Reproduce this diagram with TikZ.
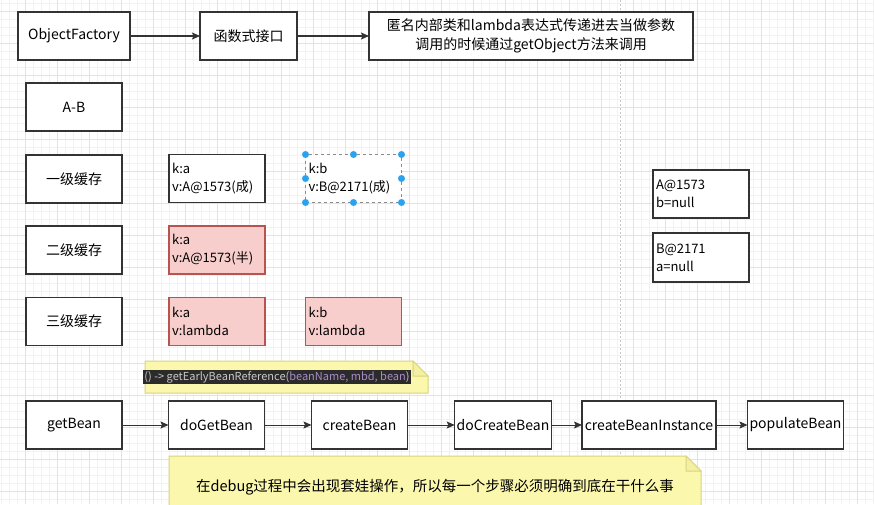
\documentclass[tikz,border=0pt]{standalone}
\usepackage{fontspec}
\setmainfont{Noto Sans CJK SC}
\usetikzlibrary{arrows.meta}

\definecolor{PinkFill}{HTML}{F8CECC}
\definecolor{PinkLine}{HTML}{B85450}
\definecolor{NoteFill}{HTML}{FBF7AC}
\definecolor{NoteLine}{HTML}{D9D47E}
\definecolor{BoxLine}{HTML}{333333}
\definecolor{CodeBack}{HTML}{2B2B2B}
\definecolor{CodeText}{HTML}{C8C8C8}
\definecolor{CodeParam}{HTML}{A88BC6}
\definecolor{HandleBlue}{HTML}{29A3F0}

\begin{document}
\begin{tikzpicture}[
	x=1pt, y=-1pt,
	MyBox/.style={draw=BoxLine, line width=1.2pt, fill=white, minimum width=96pt,
		minimum height=48pt, inner sep=2pt, outer sep=0pt,
		font=\fontsize{14}{19}\selectfont},
	CacheBox/.style={MyBox, text width=90pt, align=left, inner xsep=3pt,
		font=\fontsize{13}{18}\selectfont},
	PinkBox/.style={CacheBox, draw=PinkLine, fill=PinkFill},
	MyArrow/.style={-{Stealth[length=8pt, width=7pt, inset=1.5pt]}, line width=1.2pt, BoxLine},
	NoteStyle/.style={fill=NoteFill, draw=NoteLine, line width=1pt},
	NoteFold/.style={fill=NoteFill!80!NoteLine, draw=NoteLine, line width=1pt},
	GridMinor/.style={line width=0.4pt, black!5},
	GridMajor/.style={line width=0.5pt, black!11},
	]
	\clip (0,0) rectangle (874,504);
	\fill[white] (0,0) rectangle (874,504);
	
	% background grid
	\foreach \gx in {1,9,...,873} \draw[GridMinor] (\gx,0) -- (\gx,504);
	\foreach \gy in {3,11,...,503} \draw[GridMinor] (0,\gy) -- (874,\gy);
	\foreach \gx in {25,57,...,857} \draw[GridMajor] (\gx,0) -- (\gx,504);
	\foreach \gy in {11,43,...,491} \draw[GridMajor] (0,\gy) -- (874,\gy);
	\draw[black!22, line width=0.6pt, dash pattern=on 2pt off 2pt] (620,0) -- (620,504);
	
	% top row
	\node [MyBox, minimum width=112pt] (of) at (74,36) {ObjectFactory};
	\node [MyBox, minimum width=97pt] (fi) at (248.5,36) {函数式接口};
	\node [MyBox, minimum width=324pt, align=center] (anon) at (531,36)
		{匿名内部类和lambda表达式传递进去当做参数\\调用的时候通过getObject方法来调用};
	\draw[MyArrow] (of) -- (fi);
	\draw[MyArrow] (fi) -- (anon);
	
	% caches
	\node [MyBox] (ab) at (74,107) {A-B};
	\node [MyBox] (l1) at (74,179) {一级缓存};
	\node [MyBox] (l2) at (74,250) {二级缓存};
	\node [MyBox] (l3) at (74,321.5) {三级缓存};
	
	\node [CacheBox] (ka1) at (217,178.5) {k:a\\v:A@1573(成)};
	\node [CacheBox, draw=black!45, line width=0.8pt, dashed] (kb1) at (353.5,178.5) {k:b\\v:B@2171(成)};
	\foreach \an in {north west,north,north east,east,south east,south,south west,west}
		\fill[HandleBlue] (kb1.\an) circle[radius=3.5pt];
	\node [PinkBox] (ka2) at (217,250) {k:a\\v:A@1573(半)};
	\node [PinkBox] (ka3) at (217,321.5) {k:a\\v:lambda};
	\node [PinkBox] (kb3) at (353.5,321.5) {k:b\\v:lambda};
	
	\node [CacheBox] (ra) at (701,194) {A@1573\\b=null};
	\node [CacheBox, minimum height=49pt] (rb) at (701,257.5) {B@2171\\a=null};
	
	% note with lambda
	\filldraw[NoteStyle] (145,361) -- (413,361) -- (428,376) -- (428,393) -- (145,393) -- cycle;
	\filldraw[NoteFold] (413,361) -- (413,376) -- (428,376) -- cycle;
	\node [fill=CodeBack, text=CodeText, inner sep=1.5pt, font=\fontsize{11}{13}\selectfont]
		(early) at (277,377) {() -> getEarlyBeanReference(\textcolor{CodeParam}{beanName, mbd, bean})};
	
	% call chain
	\node [MyBox] (gb) at (74,425) {getBean};
	\node [MyBox] (dgb) at (216.5,425) {doGetBean};
	\node [MyBox] (cb) at (359.5,425) {createBean};
	\node [MyBox] (dcb) at (503,425) {doCreateBean};
	\node [MyBox, minimum width=134pt] (cbi) at (649,425) {createBeanInstance};
	\node [MyBox, minimum width=95pt] (pb) at (795.5,425) {populateBean};
	\draw[MyArrow, line width=1pt] (gb) -- (dgb);
	\draw[MyArrow, line width=1pt] (dgb) -- (cb);
	\draw[MyArrow, line width=1pt] (cb) -- (dcb);
	\draw[MyArrow, line width=1pt] (dcb) -- (cbi);
	\draw[MyArrow, line width=1pt] (cbi) -- (pb);
	
	% note at the bottom
	\filldraw[NoteStyle] (169,456) -- (686,456) -- (701,471) -- (701,512) -- (169,512) -- cycle;
	\filldraw[NoteFold] (686,456) -- (686,471) -- (701,471) -- cycle;
	\node [font=\fontsize{14.5}{17}\selectfont] (tip) at (435,487)
		{在debug过程中会出现套娃操作，所以每一个步骤必须明确到底在干什么事};
\end{tikzpicture}
\end{document}
